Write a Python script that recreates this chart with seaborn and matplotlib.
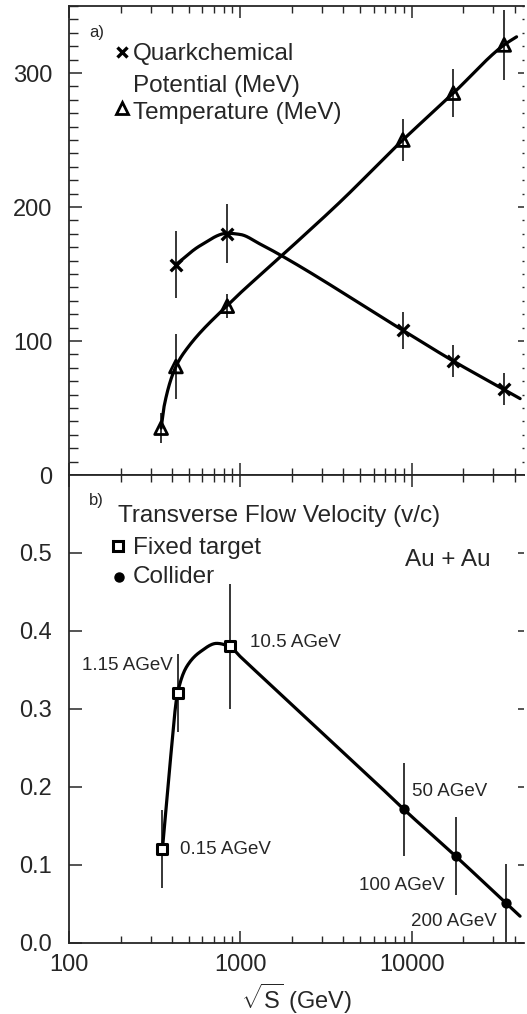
import numpy as np
import matplotlib
matplotlib.use("Agg")
import matplotlib.pyplot as plt
import seaborn as sns

# ---------------- data: panel a ----------------
mu_x = [421, 839, 8890, 17540, 34700]
mu_y = [157, 180, 108, 85, 64]
mu_err = [25, 22, 14, 12, 12]

T_x = [345, 421, 839, 8890, 17540, 34700]
T_y = [35, 81, 126, 250, 285, 321]
T_err = [11, 24, 9, 16, 18, 26]

# knots of the drawn smooth curves
mu_curve_x = [421, 582, 839, 1000, 1303, 1744, 8890, 17540, 34700, 43000]
mu_curve_y = [157, 171.1, 180.4, 179.5, 172.4, 163.6, 108, 85, 63.7, 57]
T_curve_x = [345, 360, 421, 486, 839, 1744, 3820, 8890, 17540, 34700, 41000]
T_curve_y = [35, 52, 81, 94, 126.5, 163.6, 203.7, 250, 285, 321, 327]

# ---------------- data: panel b ----------------
fixed_x = [351, 430, 866]
fixed_y = [0.12, 0.32, 0.38]
fixed_err = [0.05, 0.05, 0.08]
fixed_labels = ["0.15 AGeV", "1.15 AGeV", "10.5 AGeV"]

coll_x = [9020, 18080, 35500]
coll_y = [0.171, 0.111, 0.051]
coll_err = [0.06, 0.05, 0.05]
coll_labels = ["50 AGeV", "100 AGeV", "200 AGeV"]

flow_curve_x = [351, 389, 430, 486, 582, 728, 866, 1000, 2500, 4370, 6000,
                9020, 18080, 35500, 42960]
flow_curve_y = [0.12, 0.23, 0.32, 0.354, 0.373, 0.384, 0.38, 0.367, 0.2855,
                0.236, 0.208, 0.171, 0.111, 0.051, 0.034]

x_major = [100, 1000, 10000]
x_major_labels = ["100", "1000", "10000"]
ya_major = [0, 100, 200, 300]
yb_major = [0.0, 0.1, 0.2, 0.3, 0.4, 0.5]


def pchip(xk, yk, xs):
    xk = np.asarray(xk, float)
    yk = np.asarray(yk, float)
    h = np.diff(xk)
    d = np.diff(yk) / h
    n = len(xk)
    m = np.zeros(n)
    for i in range(1, n - 1):
        if d[i - 1] * d[i] > 0:
            w1 = 2 * h[i] + h[i - 1]
            w2 = h[i] + 2 * h[i - 1]
            m[i] = (w1 + w2) / (w1 / d[i - 1] + w2 / d[i])
    m[0] = d[0]
    m[-1] = d[-1]
    idx = np.clip(np.searchsorted(xk, xs) - 1, 0, n - 2)
    t = (xs - xk[idx]) / h[idx]
    h00 = 2 * t**3 - 3 * t**2 + 1
    h10 = t**3 - 2 * t**2 + t
    h01 = -2 * t**3 + 3 * t**2
    h11 = t**3 - t**2
    return (h00 * yk[idx] + h10 * h[idx] * m[idx] + h01 * yk[idx + 1]
            + h11 * h[idx] * m[idx + 1])


def smooth(xk, yk, n=600):
    lx = np.log10(xk)
    xs = np.linspace(lx[0], lx[-1], n)
    return 10 ** xs, pchip(lx, yk, xs)


sns.set_style("ticks")
plt.rcParams["font.family"] = ["Liberation Sans", "DejaVu Sans"]
plt.rcParams["mathtext.fontset"] = "custom"
plt.rcParams["mathtext.rm"] = "Liberation Sans"
plt.rcParams["mathtext.sf"] = "Liberation Sans"
plt.rcParams["mathtext.it"] = "Liberation Sans:italic"
plt.rcParams["axes.linewidth"] = 1.3

fig = plt.figure(figsize=(5.27, 10.14), dpi=100)
fig.patch.set_facecolor("white")
L, W = 69 / 527, 455 / 527
axa = fig.add_axes([L, 1 - 475 / 1014, W, 469 / 1014])
axb = fig.add_axes([L, 1 - 942.7 / 1014, W, 467.7 / 1014])

XMIN, XMAX = 100, 45300
TICK_FS = 17
for ax in (axa, axb):
    ax.set_facecolor("white")
    ax.set_xscale("log")
    ax.set_xlim(XMIN, XMAX)
    ax.spines["right"].set_visible(False)
    ax.xaxis.set_major_locator(matplotlib.ticker.FixedLocator(x_major))
    ax.xaxis.set_minor_locator(matplotlib.ticker.LogLocator(base=10, subs=np.arange(2, 10)))
    ax.xaxis.set_minor_formatter(matplotlib.ticker.NullFormatter())
    ax.tick_params(axis="x", which="major", direction="in", top=True, bottom=True,
                   length=8.6, width=1.1, labelsize=TICK_FS, pad=8)
    ax.tick_params(axis="x", which="minor", direction="in", top=True, bottom=True,
                   length=5, width=1.0)
    ax.tick_params(axis="y", which="major", direction="in", left=True, right=False,
                   length=9, width=1.1, labelsize=TICK_FS, pad=12)

# ---------------- panel a ----------------
axa.set_ylim(0, 350)
axa.set_yticks(ya_major)
axa.set_yticklabels([str(v) for v in ya_major])
axa.yaxis.set_minor_locator(matplotlib.ticker.MultipleLocator(10))
axa.tick_params(axis="y", which="minor", direction="in", left=True, length=6.2, width=1.0)
axa.tick_params(axis="x", which="both", labelbottom=False)
axa.tick_params(axis="y", which="both", right=True)
for t in axa.yaxis.get_major_ticks():
    t.tick2line.set_markersize(4)
for t in axa.yaxis.get_minor_ticks():
    t.tick2line.set_markersize(1.5)

cx, cy = smooth(T_curve_x, T_curve_y)
sns.lineplot(x=cx, y=cy, ax=axa, color="black", lw=2.3, sort=False, estimator=None)
cx, cy = smooth(mu_curve_x, mu_curve_y)
sns.lineplot(x=cx, y=cy, ax=axa, color="black", lw=2.3, sort=False, estimator=None)

axa.vlines(mu_x, np.array(mu_y) - mu_err, np.array(mu_y) + mu_err, color="black", lw=1.1)
axa.vlines(T_x, np.array(T_y) - T_err, np.array(T_y) + T_err, color="black", lw=1.1)
sns.scatterplot(x=mu_x, y=mu_y, ax=axa, marker="x", s=70, color="black",
                linewidth=2.4, zorder=5)
sns.scatterplot(x=T_x, y=T_y, ax=axa, marker="^", s=85, facecolor="none",
                edgecolor="black", linewidth=2.0, zorder=5)

tra = axa.transAxes
axa.text((89 - 69) / 455, (475 - 36.7) / 469, "a)", transform=tra, fontsize=12,
         va="baseline", ha="left")
axa.plot([(122 - 69) / 455], [(475 - 52) / 469], transform=tra, marker="x", ms=7,
         mew=2.4, color="black", clip_on=False)
axa.text((133 - 69) / 455, (475 - 60) / 469, "Quarkchemical", transform=tra,
         fontsize=17.5, va="baseline", ha="left")
axa.text((133 - 69) / 455, (475 - 91.7) / 469, "Potential (MeV)", transform=tra,
         fontsize=17.5, va="baseline", ha="left")
axa.plot([(122 - 69) / 455], [(475 - 108) / 469], transform=tra, marker="^", ms=8,
         mew=2.0, mfc="none", color="black", clip_on=False)
axa.text((133 - 69) / 455, (475 - 118.5) / 469, "Temperature (MeV)", transform=tra,
         fontsize=17.5, va="baseline", ha="left")

# ---------------- panel b ----------------
axb.set_ylim(0, 0.6)
axb.set_yticks(yb_major)
axb.set_yticklabels([f"{v:.1f}" for v in yb_major])
axb.tick_params(axis="y", which="major", right=True)
for t in axb.yaxis.get_major_ticks():
    t.tick2line.set_markersize(4)
axb.set_xticks(x_major)
axb.set_xticklabels(x_major_labels)
axb.tick_params(axis="x", which="both", labeltop=False)
axb.set_xlabel(r"$\sqrt{\mathsf{S}}$ (GeV)", fontsize=17, labelpad=4)

cx, cy = smooth(flow_curve_x, flow_curve_y)
sns.lineplot(x=cx, y=cy, ax=axb, color="black", lw=2.3, sort=False, estimator=None)
axb.vlines(fixed_x, np.array(fixed_y) - fixed_err, np.array(fixed_y) + fixed_err,
           color="black", lw=1.1)
axb.vlines(coll_x, np.array(coll_y) - coll_err, np.array(coll_y) + coll_err,
           color="black", lw=1.1)
sns.scatterplot(x=fixed_x, y=fixed_y, ax=axb, marker="s", s=55, facecolor="white",
                edgecolor="black", linewidth=2.2, zorder=5)
sns.scatterplot(x=coll_x, y=coll_y, ax=axb, marker="o", s=55, color="black",
                edgecolor="black", linewidth=0, zorder=5)

ANN_FS = 13.5
fixed_pos = [(444.6, 0.1133, "left"), (406, 0.3496, "right"), (1139, 0.3795, "left")]
coll_pos = [(10100, 0.1885, "left"), (15670, 0.0676, "right"), (31400, 0.0214, "right")]
for (px, py, ha), lab in zip(fixed_pos, fixed_labels):
    axb.text(px, py, lab, fontsize=ANN_FS, ha=ha, va="baseline")
for (px, py, ha), lab in zip(coll_pos, coll_labels):
    axb.text(px, py, lab, fontsize=ANN_FS, ha=ha, va="baseline")

trb = axb.transAxes
fy = lambda py: (942.7 - py) / 467.7
fx = lambda px: (px - 69) / 455
axb.text(fx(89), fy(505), "b)", transform=trb, fontsize=12, va="baseline", ha="left")
axb.text(fx(118), fy(521.7), "Transverse Flow Velocity (v/c)", transform=trb,
         fontsize=17.5, va="baseline", ha="left")
axb.plot([fx(118.3)], [fy(545.7)], transform=trb, marker="s", ms=7, mew=2.2,
         mfc="white", color="black", clip_on=False)
axb.text(fx(133), fy(554), "Fixed target", transform=trb, fontsize=17.5,
         va="baseline", ha="left")
axb.plot([fx(119)], [fy(577.3)], transform=trb, marker="o", ms=6.5, color="black",
         clip_on=False)
axb.text(fx(133), fy(583.3), "Collider", transform=trb, fontsize=17.5,
         va="baseline", ha="left")
axb.text(fx(405), fy(566), "Au + Au", transform=trb, fontsize=17.5,
         va="baseline", ha="left")

fig.savefig("out.png", dpi=100, facecolor="white")
